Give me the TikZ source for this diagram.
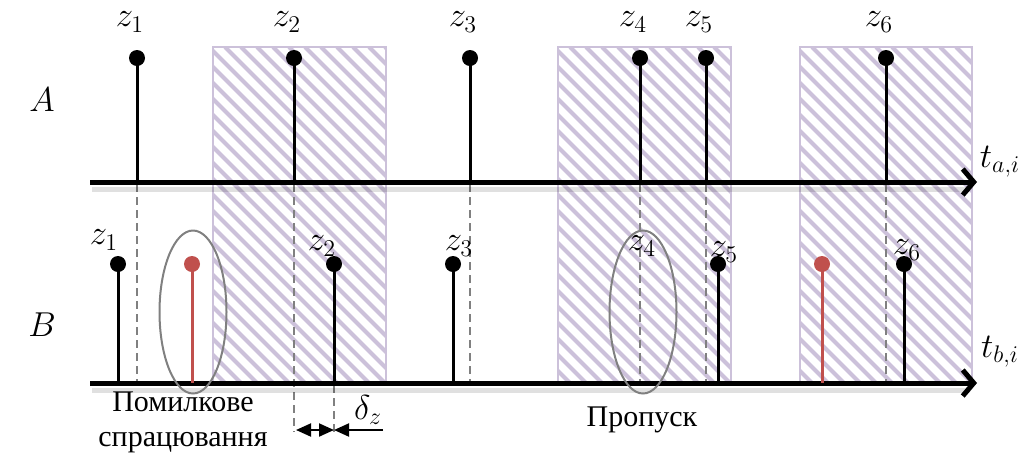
\documentclass[tikz,border=0pt]{standalone}
\usepackage{fontspec}
\setmainfont{Liberation Serif}
\usepackage{tikz}
\usetikzlibrary{arrows.meta,shapes.geometric}
\definecolor{hatchlilac}{HTML}{CCC1DA}
\definecolor{falsered}{HTML}{C0504D}
\definecolor{markgray}{HTML}{808080}

\begin{document}
\begin{tikzpicture}[x=0.5pt,y=-0.5pt,
  every node/.style={font=\fontsize{15}{17.5}\selectfont},
  lbl/.style={font=\fontsize{17.5}{20}\selectfont},
  dot/.style={circle,fill=black,inner sep=0pt,minimum size=8pt},
  reddot/.style={dot,fill=falsered},
  stem/.style={line width=1.5pt},
  axis/.style={line width=2.5pt,-{Straight Barb[length=5.5pt,width=13pt,line width=2.5pt]}},
  shade/.style={black,opacity=0.12,line width=2.5pt},
  guide/.style={markgray,line width=0.8pt,dash pattern=on 4pt off 2.5pt},
  ring/.style={draw=markgray,ellipse,line width=1pt,minimum width=33.5pt,minimum height=81.5pt,inner sep=0pt},
  gap/.style={line width=1pt,>={Triangle[length=7.5pt,width=6.5pt]}}]
\useasboundingbox (0,0) rectangle (1022,457);

\foreach \xa/\xb in {213/386,558/731,800/972} {
  \begin{scope}
    \clip (\xa,47) rectangle (\xb,383);
    \foreach \s in {-340,-324,...,180}
      \draw[hatchlilac,line width=2pt] (\xa+\s,47) -- ++(360,360);
  \end{scope}
  \draw[hatchlilac,line width=1.3pt] (\xa,47) rectangle (\xb,383);
}

\foreach \x/\y in {137/381,294/432,470/381,640/381,706/381,886/381}
  \draw[guide] (\x,184) -- (\x,\y);
\draw[guide] (334,385) -- (334,432);

\coordinate (ta0) at (90,182);
\coordinate (ta1) at (977,182);
\coordinate (tb0) at (90,383);
\coordinate (tb1) at (977,383);
\draw[shade] (92,189) -- (970,189);
\draw[shade] (92,390) -- (970,390);
\draw[axis] (ta0) -- (ta1);
\draw[axis] (tb0) -- (tb1);
\node[lbl] (talbl) at (1000,162) {$t_{a,i}$};
\node[lbl] (tblbl) at (1000,352) {$t_{b,i}$};
\node[lbl] (rowa) at (42,100) {$A$};
\node[lbl] (rowb) at (42,325) {$B$};

\foreach \n/\x in {1/137,2/294,3/470,4/640,5/706,6/886} {
  \node[dot] (a\n) at (\x,58) {};
  \coordinate (a\n foot) at (\x,182);
  \draw[stem] (a\n.center) -- (a\n foot);
  \node[lbl] (za\n) at (\x-7,22) {$z_{\n}$};
}

\foreach \n/\x in {1/118,2/334,3/453,5/718,6/904} {
  \node[dot] (b\n) at (\x,264) {};
  \coordinate (b\n foot) at (\x,383);
  \draw[stem] (b\n.center) -- (b\n foot);
}
\foreach \n/\x in {1/192,2/822} {
  \node[reddot] (r\n) at (\x,264) {};
  \coordinate (r\n foot) at (\x,383);
  \draw[stem,falsered] (r\n.center) -- (r\n foot);
}
\foreach \n/\x/\y in {1/104/240,2/322/246,3/459/246,4/642/246,5/724/252,6/907/250}
  \node[lbl] (zb\n) at (\x,\y) {$z_{\n}$};

\node[ring] (misfire) at (193,312) {};
\node[ring] (skip) at (643,312) {};
\node[align=center] (misfirelbl) at (183,422) {Помилкове\\спрацювання};
\node (skiplbl) at (642,420) {Пропуск};

\coordinate (g1) at (296,430);
\coordinate (g2) at (334,430);
\coordinate (g3) at (383,430);
\draw[gap,<->] (g1) -- (g2);
\draw[gap,->] (g3) -- (g2);
\node[lbl] (dz) at (368,410) {$\delta_z$};
\end{tikzpicture}
\end{document}
